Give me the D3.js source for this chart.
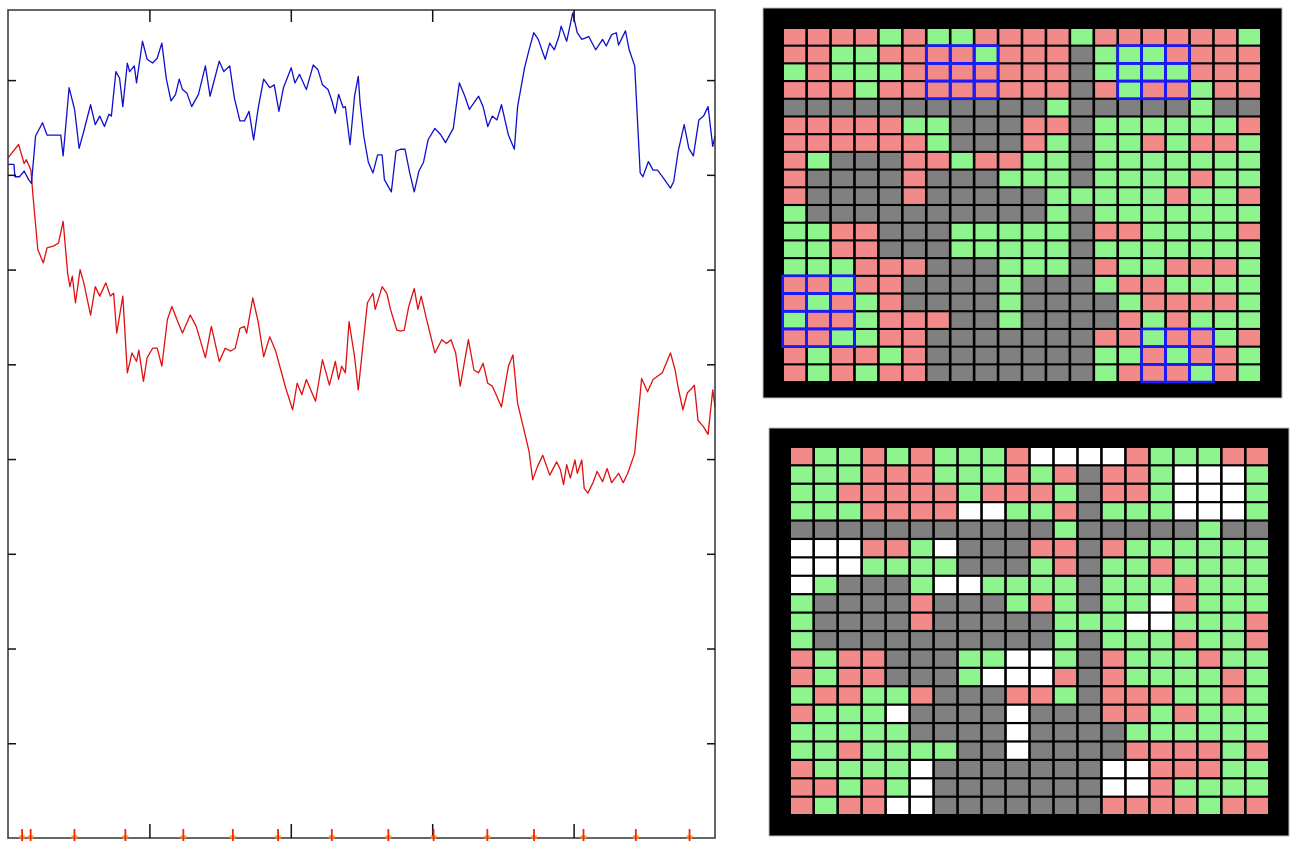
<!DOCTYPE html>
<html><head><meta charset="utf-8">
<script src="https://cdn.jsdelivr.net/npm/d3@7"></script>
<style>html,body{margin:0;padding:0;background:#fff;} svg{display:block;}</style>
</head><body>
<svg id="chart" width="1293" height="841"></svg>
<script>
// ---- data ----
const xTickValues = [100, 200, 300, 400];
const yTickValues = [1, 2, 3, 4, 5, 6, 7, 8];

const blueSeries = [
[0,7.11],[4.2,7.11],[4.9,6.98],[8.1,6.98],[11.4,7.04],[14.6,6.95],[16.6,6.91],[19.5,7.41],[24.4,7.55],[27.6,7.42],
[37.3,7.42],[39.0,7.20],[43.2,7.92],[47.1,7.69],[50.3,7.28],[53.6,7.46],[58.4,7.74],[61.7,7.53],[64.9,7.62],[68.2,7.51],
[71.4,7.64],[73.1,7.62],[76.3,8.09],[78.9,8.02],[81.2,7.72],[84.4,8.18],[86.0,8.09],[89.3,8.15],[90.9,7.97],[95.1,8.41],
[98.4,8.22],[102.3,8.18],[105.5,8.23],[108.8,8.39],[112.0,8.01],[115.3,7.78],[118.5,7.85],[121.1,8.01],[123.4,7.90],[126.6,7.86],
[129.9,7.72],[134.7,7.85],[139.6,8.15],[142.9,7.83],[149.4,8.20],[152.6,8.09],[156.8,8.15],[160.1,7.81],[164.0,7.57],[167.2,7.57],
[170.5,7.67],[173.7,7.37],[177.0,7.71],[180.8,8.01],[185.1,7.92],[188.3,7.95],[191.6,7.67],[194.8,7.92],[200.3,8.13],[202.9,7.97],
[206.2,8.06],[211.0,7.90],[215.9,8.16],[219.2,8.11],[222.4,7.95],[226.3,7.90],[228.9,7.79],[231.5,7.65],[233.8,7.85],[237.0,7.71],
[238.6,7.72],[241.9,7.32],[245.1,7.83],[247.7,8.04],[249.0,7.76],[251.6,7.41],[254.9,7.13],[258.1,7.02],[261.4,7.21],[264.6,7.21],
[266.2,6.95],[271.1,6.82],[274.4,7.25],[277.6,7.27],[280.8,7.27],[284.1,7.02],[287.3,6.82],[290.6,7.04],[293.8,7.13],[297.1,7.37],
[301.9,7.49],[306.2,7.42],[309.4,7.34],[314.9,7.49],[319.2,7.97],[323.1,7.83],[326.3,7.69],[332.8,7.83],[336.0,7.72],[339.3,7.51],
[342.5,7.62],[345.8,7.58],[349.0,7.74],[353.9,7.42],[358.1,7.27],[360.4,7.72],[365.3,8.13],[368.5,8.32],[371.8,8.50],[375.0,8.43],
[379.9,8.22],[383.1,8.39],[386.4,8.32],[389.6,8.46],[391.2,8.57],[395.1,8.41],[399.4,8.71],[402.6,8.50],[405.8,8.43],[410.7,8.46],
[415.6,8.32],[420.5,8.43],[423.1,8.36],[426.9,8.48],[430.2,8.50],[431.8,8.37],[436.7,8.52],[439.3,8.32],[443.2,8.15],[447.1,7.02],
[449.0,6.98],[452.9,7.14],[456.2,7.05],[459.4,7.05],[464.3,6.95],[468.5,6.86],[470.8,6.93],[474.0,7.25],[478.2,7.53],[481.5,7.28],
[484.7,7.20],[488.6,7.58],[491.9,7.62],[495.1,7.72],[498.4,7.30],[500,7.41]
];

const redSeries = [
[0,7.18],[7.5,7.32],[11.4,7.12],[13.0,7.16],[16.2,7.05],[17.9,6.74],[21.1,6.21],[25.0,6.07],[27.6,6.23],[32.5,6.25],
[35.7,6.28],[39.0,6.51],[42.2,5.96],[43.8,5.82],[45.5,5.93],[47.7,5.65],[51.0,6.00],[53.6,5.86],[58.4,5.52],[61.7,5.82],
[64.9,5.72],[69.2,5.86],[72.4,5.72],[74.7,5.75],[76.9,5.33],[81.2,5.72],[84.4,4.91],[87.7,5.12],[90.9,5.03],[92.5,5.15],
[95.8,4.82],[98.4,5.07],[102.3,5.17],[105.5,5.17],[108.8,4.98],[112.7,5.47],[115.9,5.61],[120.1,5.45],[123.4,5.33],[128.9,5.52],
[133.1,5.40],[139.6,5.07],[143.8,5.40],[149.4,5.03],[153.6,5.17],[157.5,5.14],[160.7,5.17],[164.0,5.38],[167.2,5.40],[168.8,5.33],
[173.1,5.70],[176.9,5.45],[180.8,5.08],[185.1,5.29],[189.3,5.14],[196.4,4.75],[201.3,4.52],[204.5,4.80],[207.8,4.68],[211.0,4.84],
[217.5,4.61],[222.4,5.05],[227.3,4.78],[231.5,5.03],[233.8,4.84],[236.0,4.98],[238.6,4.91],[241.2,5.45],[245.1,5.08],[247.7,4.73],
[254.2,5.65],[258.1,5.75],[259.7,5.58],[264.6,5.82],[267.9,5.75],[270.5,5.58],[275.0,5.36],[277.6,5.35],[280.2,5.36],[283.4,5.61],
[287.3,5.80],[289.9,5.58],[292.2,5.72],[296.4,5.45],[301.9,5.12],[306.8,5.26],[310.1,5.22],[313.3,5.26],[316.6,5.12],[319.8,4.77],
[325.6,5.26],[329.5,4.94],[332.8,4.91],[336.0,5.01],[339.3,4.80],[342.5,4.77],[349.0,4.55],[353.9,4.98],[357.1,5.10],[360.4,4.59],
[368.5,4.08],[371.1,3.78],[374.4,3.92],[378.2,4.04],[383.1,3.83],[388.0,3.97],[390.6,3.89],[392.9,3.73],[395.1,3.94],[397.7,3.80],
[401.0,3.99],[402.6,3.85],[405.8,3.99],[407.5,3.69],[410.1,3.64],[414.0,3.76],[416.6,3.87],[420.5,3.76],[423.7,3.90],[426.9,3.75],
[431.8,3.85],[435.1,3.75],[438.3,3.85],[443.2,4.06],[448.1,4.85],[452.3,4.71],[456.2,4.84],[462.7,4.91],[468.5,5.12],[471.8,4.94],
[474.0,4.75],[477.3,4.52],[480.5,4.70],[483.8,4.75],[485.4,4.78],[488.0,4.41],[491.9,4.34],[495.1,4.26],[498.4,4.73],[500,4.55]
];

const eventMarks = [10, 16, 47, 83, 124, 159, 191, 229, 269, 301, 339, 372, 407, 444, 482];

// P = pink, G = green, X = gray, W = white
const topGrid = [
"PPPPGPGGPPPPGPPPPPPG",
"PPGGPPPPGPPPXGGGPPPP",
"GPGGGPPPPPPPXGGGGPPP",
"PPPGPPPPPPPPXPGPPGPP",
"XXXXXXXXXXXGXXXXXGXX",
"PPPPPGGXXXPPXGGGGGGP",
"PPPPPPGXXXPGXGGPGPPG",
"PGXXXPPGPPGGXGGGGGGG",
"PXXXXPXXXGGGXGGGGPGG",
"PXXXXPXXXXXGGGGGPGGP",
"GXXXXXXXXXXGXGGGGGGG",
"GGPPXXXGGGGGXPPGGGGP",
"GGPPXXXGGGGGXGGGGGGG",
"GGGPPPXXXGGGXPGGPPPG",
"PPGPPXXXXGXXXGPPGGGG",
"PGPGPXXXXGXXXXGPPPPG",
"GPPGPPPXXGXXXXPGPGGG",
"PPGGPPXXXXXXXPPGPPGP",
"PGPPGPXXXXXXXGGPGPPG",
"PGPGPPXXXXXXXGPPPGPG"
];

const bottomGrid = [
"PGGPGPGGGPWWWWPGGGPP",
"GGGPPPGGGPGPXPPGWWWG",
"GGPPPPPGPPPGXPPGWWWG",
"GGGPPPPWWGGPXGGGWWWG",
"XXXXXXXXXXXGXXXXXGXX",
"WWWPPGWXXXPPXPGGGGGG",
"WWWGGGGXXXGPXGGPGGGG",
"WGXXXGWWGGGGXGGGPGGG",
"GXXXXPXXXGPGXGGWPGGG",
"GXXXXPXXXXXGGGWWGGGP",
"GXXXXXXXXXXGXGGGPGGP",
"PGPPXXXGGWWGXPGGGPGG",
"PGPPXXXGWWWPXPGGGGPG",
"GPPGGPXXXPPGXPPPGGPG",
"PGGGWXXXXWXXXPPGPGGG",
"GGGGGXXXXWXXXXGGGGGG",
"GGPGGGGXXWXXXXPPPPGP",
"PGGGGWXXXXXXXWWPPPGG",
"PPGPGWXXXXXXXWWPGGGG",
"PGPPWWXXXXXXXPPPPGPP"
];

// [firstRow, firstCol, rows, cols]
const topBoxes = [[1, 6, 3, 3], [1, 14, 3, 3], [14, 0, 4, 3], [17, 15, 3, 3]];

const cellColors = { P: "#f28a8a", G: "#8ef48e", X: "#808080", W: "#ffffff" };

// ---- line chart ----
const svg = d3.select("#chart");
const x = d3.scaleLinear().domain([0, 500]).range([8, 715]);
const y = d3.scaleLinear().domain([0, 8.74]).range([838, 10]);

const plot = svg.append("g");
plot.append("rect").attr("x", 8).attr("y", 10).attr("width", 707).attr("height", 828)
  .attr("fill", "#fff");

const line = d3.line().x(d => x(d[0])).y(d => y(d[1]));
plot.append("path").datum(redSeries).attr("d", line)
  .attr("fill", "none").attr("stroke", "#e01010").attr("stroke-width", 1.3).attr("stroke-linejoin", "round");
plot.append("path").datum(blueSeries).attr("d", line)
  .attr("fill", "none").attr("stroke", "#1010cc").attr("stroke-width", 1.3).attr("stroke-linejoin", "round");

function styleAxis(g) {
  g.select(".domain").remove();
  g.selectAll(".tick line").attr("stroke", "#111").attr("stroke-width", 1.5);
}
svg.append("g").attr("transform", "translate(8,0)")
  .call(d3.axisLeft(y).tickValues(yTickValues).tickSize(-8).tickFormat("")).call(styleAxis);
svg.append("g").attr("transform", "translate(715,0)")
  .call(d3.axisRight(y).tickValues(yTickValues).tickSize(-8).tickFormat("")).call(styleAxis);
svg.append("g").attr("transform", "translate(0,10)")
  .call(d3.axisTop(x).tickValues(xTickValues).tickSize(-12).tickFormat("")).call(styleAxis);
svg.append("g").attr("transform", "translate(0,838)")
  .call(d3.axisBottom(x).tickValues(xTickValues).tickSize(-14).tickFormat("")).call(styleAxis);

plot.append("rect").attr("x", 8).attr("y", 10).attr("width", 707).attr("height", 828)
  .attr("fill", "none").attr("stroke", "#333").attr("stroke-width", 1.5);

const marks = svg.append("g");
marks.selectAll("line.h").data(eventMarks).join("line").attr("class", "h")
  .attr("x1", d => x(d) - 3).attr("x2", d => x(d) + 3).attr("y1", 837).attr("y2", 837)
  .attr("stroke", "#ff9a20").attr("stroke-width", 3);
marks.selectAll("line.v").data(eventMarks).join("line").attr("class", "v")
  .attr("x1", d => x(d)).attr("x2", d => x(d)).attr("y1", 829).attr("y2", 841)
  .attr("stroke", "#ff2000").attr("stroke-width", 1.8);

// ---- grids ----
function drawGrid(data, frame, cells, boxes) {
  const g = svg.append("g");
  g.append("rect").attr("x", frame[0]).attr("y", frame[1])
    .attr("width", frame[2] - frame[0]).attr("height", frame[3] - frame[1])
    .attr("fill", "#000").attr("stroke", "#bbb").attr("stroke-width", 1);
  const nR = data.length, nC = data[0].length;
  const cx = d3.scaleBand().domain(d3.range(nC)).range([cells[0], cells[2]]).paddingInner(0.11);
  const cy = d3.scaleBand().domain(d3.range(nR)).range([cells[1], cells[3]]).paddingInner(0.12);
  const flat = [];
  data.forEach((row, r) => row.split("").forEach((k, c) => flat.push({ r, c, k })));
  g.selectAll("rect.cell").data(flat).join("rect").attr("class", "cell")
    .attr("x", d => cx(d.c)).attr("y", d => cy(d.r))
    .attr("width", cx.bandwidth()).attr("height", cy.bandwidth())
    .attr("fill", d => cellColors[d.k]);
  const gapX = cx.step() - cx.bandwidth(), gapY = cy.step() - cy.bandwidth();
  const boxCells = [];
  boxes.forEach(([r0, c0, nr, nc]) => {
    for (let r = r0; r < r0 + nr; r++) for (let c = c0; c < c0 + nc; c++) boxCells.push({ r, c });
  });
  g.selectAll("rect.box").data(boxCells).join("rect").attr("class", "box")
    .attr("x", d => cx(d.c) - gapX / 2).attr("y", d => cy(d.r) - gapY / 2)
    .attr("width", cx.step()).attr("height", cy.step())
    .attr("fill", "none").attr("stroke", "#1a1aff").attr("stroke-width", 2.6);
}

drawGrid(topGrid, [763, 8, 1282, 398], [784, 29, 1260, 381], topBoxes);
drawGrid(bottomGrid, [769, 428, 1289, 836], [791, 448, 1268, 814], []);
</script>
</body></html>
